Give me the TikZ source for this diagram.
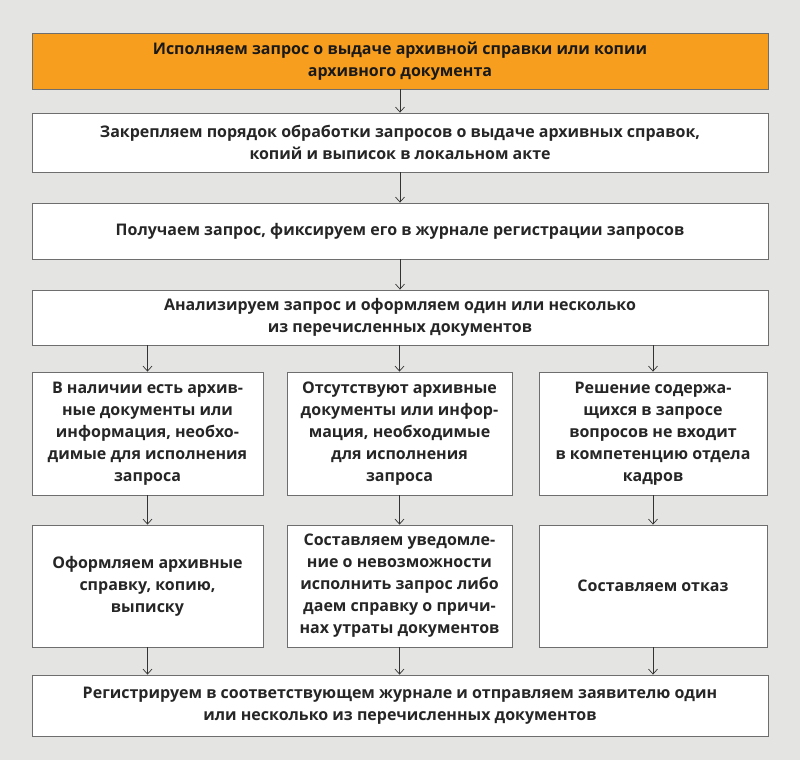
\documentclass[tikz,border=0pt]{standalone}
\usepackage{fontspec}
\setmainfont{Open Sans}
\usetikzlibrary{arrows.meta}
\definecolor{bg}{HTML}{E4E5E3}
\definecolor{org}{HTML}{F79E1F}
\definecolor{bd}{HTML}{6E6E6E}
\begin{document}
\begin{tikzpicture}[x=1pt,y=-1pt,
 box/.style={draw=bd,line width=0.8pt,fill=white,align=center,font=\fontsize{16}{22}\selectfont\bfseries,text=black!85},
 arr/.style={-{Straight Barb[length=5pt,width=9pt]},line width=0.7pt,draw=black!80}]
\fill[bg] (0,0) rectangle (800,760);
\useasboundingbox (0,0) rectangle (800,760);
\node[box,fill=org,minimum width=736,minimum height=56,text=black!90] (a) at (400,61) {Исполняем запрос о выдаче архивной справки или копии\\архивного документа};
\node[box,minimum width=736,minimum height=59] (b) at (400,142.5) {Закрепляем порядок обработки запросов о выдаче архивных справок,\\копий и выписок в локальном акте};
\node[box,minimum width=736,minimum height=56] (c) at (400,231) {Получаем запрос, фиксируем его в журнале регистрации запросов};
\node[box,minimum width=736,minimum height=55] (d) at (400,317.5) {Анализируем запрос и оформляем один или несколько\\из перечисленных документов};
\node[box,minimum width=231,minimum height=123] (e1) at (147.5,433.5) {В наличии есть архив-\\ные документы или\\информация, необхо-\\димые для исполнения\\запроса};
\node[box,minimum width=225,minimum height=123] (e2) at (399.5,433.5) {Отсутствуют архивные\\документы или инфор-\\мация, необходимые\\для исполнения\\запроса};
\node[box,minimum width=228,minimum height=123] (e3) at (653,433.5) {Решение содержа-\\щихся в запросе\\вопросов не входит\\в компетенцию отдела\\кадров};
\node[box,minimum width=231,minimum height=122] (f1) at (147.5,586) {Оформляем архивные\\справку, копию,\\выписку};
\node[box,minimum width=225,minimum height=122] (f2) at (399.5,586) {Составляем уведомле-\\ние о невозможности\\исполнить запрос либо\\даем справку о причи-\\нах утраты документов};
\node[box,minimum width=228,minimum height=122] (f3) at (653,586) {Составляем отказ};
\node[box,minimum width=736,minimum height=61] (g) at (400,705.5) {Регистрируем в соответствующем журнале и отправляем заявителю один\\или несколько из перечисленных документов};
\draw[arr] (a) -- (b);
\draw[arr] (b) -- (c);
\draw[arr] (c) -- (d);
\draw[arr] (d.south -| e1) -- (e1);
\draw[arr] (d.south -| e2) -- (e2);
\draw[arr] (d.south -| e3) -- (e3);
\draw[arr] (e1) -- (f1);
\draw[arr] (e2) -- (f2);
\draw[arr] (e3) -- (f3);
\draw[arr] (f1) -- (g.north -| f1);
\draw[arr] (f2) -- (g.north -| f2);
\draw[arr] (f3) -- (g.north -| f3);
\end{tikzpicture}
\end{document}
